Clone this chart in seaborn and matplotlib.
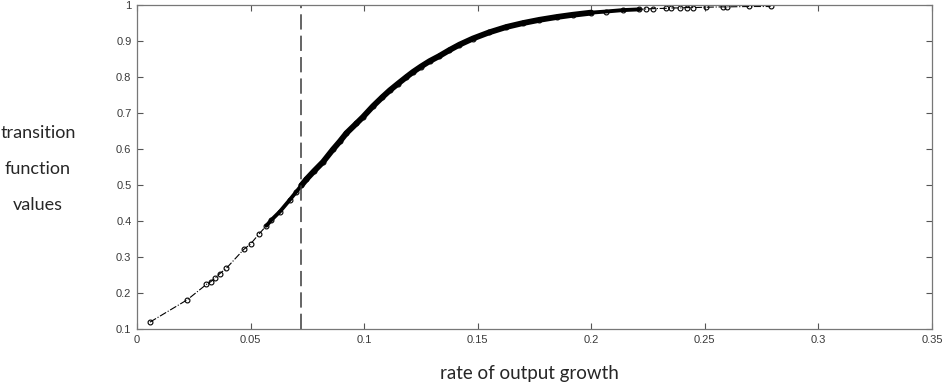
"""Transition function values against rate of output growth (LSTAR-style curve)."""
import matplotlib
matplotlib.use("Agg")
import matplotlib.pyplot as plt
import numpy as np
import seaborn as sns

# values
growth = [0.0057, 0.0221, 0.0306, 0.0324, 0.0343, 0.0365, 0.0394, 0.0470, 0.0500,
          0.0536, 0.0570, 0.0592, 0.0629, 0.0673, 0.0700, 0.0724, 0.0746, 0.0780,
          0.0819, 0.0863, 0.0893, 0.0922, 0.0966, 0.0995, 0.1039, 0.1080, 0.1113,
          0.1150, 0.1186, 0.1215, 0.1250, 0.1288, 0.1330, 0.1376, 0.1420, 0.1479,
          0.1550, 0.1626, 0.1700, 0.1772, 0.1850, 0.1919, 0.2000, 0.2065, 0.2140,
          0.2212, 0.2240, 0.2270, 0.2330, 0.2350, 0.2390, 0.2420, 0.2450, 0.2505,
          0.2580, 0.2600, 0.2695, 0.2790]
transition = [0.120, 0.182, 0.225, 0.232, 0.242, 0.255, 0.270, 0.322, 0.337,
              0.364, 0.388, 0.404, 0.427, 0.460, 0.481, 0.500, 0.517, 0.540,
              0.565, 0.600, 0.622, 0.645, 0.672, 0.690, 0.720, 0.745, 0.764,
              0.783, 0.801, 0.815, 0.830, 0.845, 0.859, 0.876, 0.891, 0.908,
              0.925, 0.940, 0.951, 0.960, 0.968, 0.974, 0.980, 0.983, 0.987,
              0.989, 0.990, 0.991, 0.992, 0.993, 0.993, 0.994, 0.994, 0.995,
              0.996, 0.996, 0.997, 0.997]
threshold = 0.0724

x_ticks = [0, 0.05, 0.1, 0.15, 0.2, 0.25, 0.3, 0.35]
y_ticks = [0.1, 0.2, 0.3, 0.4, 0.5, 0.6, 0.7, 0.8, 0.9, 1.0]

sns.set_style("ticks")
plt.rcParams["font.family"] = ["Liberation Sans", "DejaVu Sans"]

fig = plt.figure(figsize=(9.48, 3.87), dpi=100)
ax = fig.add_axes([0.1445, 0.149, 0.8385, 0.837])

g = np.array(growth)
t = np.array(transition)

# thin dash-dot line with open markers over the full sample
sns.lineplot(x=g, y=t, ax=ax, color="black", linestyle="-.", lw=0.8,
             marker="o", markersize=3.5, markerfacecolor="none",
             markeredgecolor="black", markeredgewidth=0.8)
# dense band of overlapping observations in the middle of the curve
dense = (g >= 0.057) & (g <= 0.222)
sns.lineplot(x=g[dense], y=t[dense], ax=ax, color="black", lw=2.8)
core = (g >= 0.072) & (g <= 0.2)
sns.lineplot(x=g[core], y=t[core], ax=ax, color="black", lw=4.2)

ax.axvline(threshold, color="#3a3a3a", lw=1.1, linestyle=(0, (10, 4)))

ax.set_xlim(0, 0.35)
ax.set_ylim(0.1, 1.0)
ax.set_xticks(x_ticks)
ax.set_yticks(y_ticks)
ax.set_xticklabels([f"{v:g}" for v in x_ticks])
ax.set_yticklabels([f"{v:g}" for v in y_ticks])
ax.tick_params(direction="in", length=4, width=0.8, color="#555555",
               labelsize=8, labelcolor="#3a3a3a", top=True, right=True, pad=4)
for s in ax.spines.values():
    s.set_color("#777777")
    s.set_linewidth(0.9)
ax.set_xlabel("")
ax.set_ylabel("")

fig.text(0.040, 0.564, "transition\nfunction\nvalues", ha="center", va="center",
         fontsize=13, family=["Lato", "DejaVu Sans"], linespacing=2.55)
fig.text(0.558, 0.034, "rate of output growth", ha="center", va="center",
         fontsize=13.5, family=["Lato", "DejaVu Sans"])

plt.savefig("out.png", dpi=100)
plt.close()
